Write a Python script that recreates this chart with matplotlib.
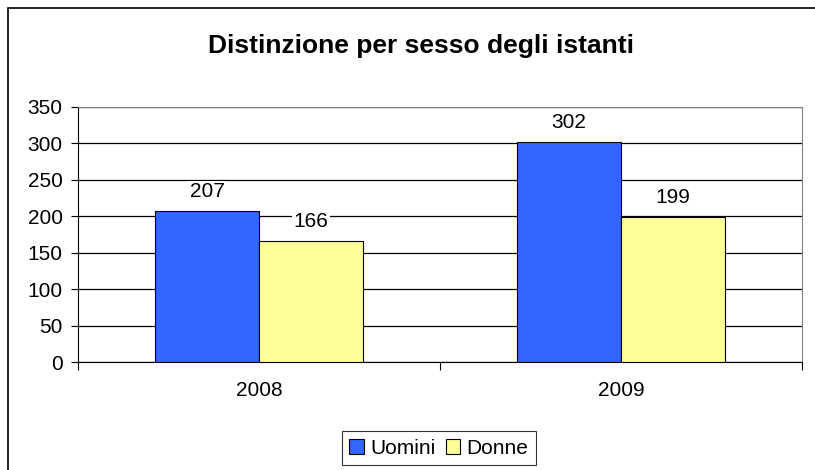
import numpy as np
import matplotlib.pyplot as plt
from matplotlib.patches import Rectangle

plt.rcParams['font.family'] = ['Liberation Sans', 'DejaVu Sans']

years = ['2008', '2009']
uomini = [207, 302]
donne = [166, 199]
series_names = ['Uomini', 'Donne']
colors = ['#3366FF', '#FFFF99']

W, H = 815, 470
fig = plt.figure(figsize=(W / 100, H / 100), dpi=100)

# outer chart frame (right/bottom edges fall off the picture)
fig.patches.append(Rectangle((8 / W, -0.1), 1.2, 1 - 8 / H + 0.1, transform=fig.transFigure,
                             fill=False, edgecolor='black', linewidth=1.2))

# plot area in pixels: x 78..802, y 107..362
ax = fig.add_axes([78 / W, 1 - 362 / H, (802 - 78) / W, (362 - 107) / H])

x = np.arange(len(years))
bw = 0.2875
ax.bar(x - bw / 2, uomini, bw, color=colors[0], edgecolor='black', linewidth=0.8,
       label=series_names[0], zorder=3)
ax.bar(x + bw / 2, donne, bw, color=colors[1], edgecolor='black', linewidth=0.8,
       label=series_names[1], zorder=3)

for xs, vals in ((x - bw / 2, uomini), (x + bw / 2, donne)):
    for xi, v in zip(xs, vals):
        ax.text(xi, v + 14, str(v), ha='center', va='bottom', fontsize=15,
                bbox=dict(facecolor='white', edgecolor='none', pad=1), zorder=4)

ax.set_xlim(-0.5, 1.5)
ax.set_ylim(0, 350)
ax.set_yticks(range(0, 351, 50))
ax.yaxis.grid(True, color='black', linewidth=0.9, zorder=0)
ax.set_xticks([-0.5, 0.5, 1.5])
ax.set_xticklabels([])
ax.set_xticks(x, minor=True)
ax.set_xticklabels(years, minor=True, fontsize=15)
ax.tick_params(axis='x', which='minor', length=0, pad=14)
ax.tick_params(axis='x', which='major', length=6, direction='out', color='black')
ax.tick_params(axis='y', length=5, labelsize=15, pad=6)

for s in ('top', 'right'):
    ax.spines[s].set_color('#808080')
for s in ('left', 'bottom'):
    ax.spines[s].set_color('black')

fig.text(421 / W, 1 - 46 / H, 'Distinzione per sesso degli istanti', ha='center', va='center',
         fontsize=19, fontweight='bold')

leg = fig.legend(loc='center', bbox_to_anchor=(439 / W, 1 - 448 / H), ncol=2, fontsize=15,
                 frameon=True, fancybox=False, edgecolor='black', handlelength=0.7,
                 handleheight=0.7, handletextpad=0.3, columnspacing=0.5, borderpad=0.35)
leg.get_frame().set_linewidth(0.8)

fig.savefig('out.png', dpi=100)
